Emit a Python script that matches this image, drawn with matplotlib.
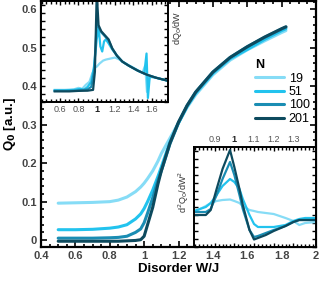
import numpy as np
import matplotlib
matplotlib.use("Agg")
import matplotlib.pyplot as plt
from matplotlib.ticker import MultipleLocator, NullFormatter

plt.rcParams['font.family'] = ['Liberation Sans', 'DejaVu Sans']

# ----------------------------
# DATA
# ----------------------------
sizes = ['19', '51', '100', '201']
colors = ['#86dcf6', '#22c3ee', '#1a8db3', '#0d4a5e']

w_main = [0.5, 0.6, 0.7, 0.8, 0.85, 0.9, 0.95, 0.98, 1.0, 1.02, 1.05, 1.08,
          1.1, 1.15, 1.2, 1.25, 1.3, 1.4, 1.5, 1.6, 1.7, 1.8, 1.825]
q_19 = [0.096, 0.097, 0.098, 0.100, 0.104, 0.112, 0.126, 0.138, 0.148, 0.160,
        0.180, 0.205, 0.225, 0.265, 0.305, 0.345, 0.378, 0.430, 0.468, 0.495,
        0.518, 0.540, 0.545]
q_51 = [0.027, 0.027, 0.028, 0.031, 0.034, 0.040, 0.055, 0.068, 0.082, 0.100,
        0.130, 0.165, 0.190, 0.255, 0.305, 0.348, 0.382, 0.434, 0.472, 0.496,
        0.522, 0.545, 0.550]
q_100 = [0.005, 0.005, 0.005, 0.006, 0.007, 0.010, 0.020, 0.029, 0.045, 0.070,
         0.110, 0.155, 0.180, 0.250, 0.305, 0.350, 0.385, 0.437, 0.475, 0.503,
         0.527, 0.549, 0.554]
q_201 = [-0.003, -0.003, -0.003, -0.003, -0.003, -0.002, -0.001, 0.001, 0.010,
         0.040, 0.085, 0.145, 0.180, 0.252, 0.307, 0.350, 0.385, 0.437, 0.475,
         0.503, 0.528, 0.550, 0.555]

# first derivative inset (box units)
w_d1_19 = [0.54, 0.65, 0.75, 0.8, 0.84, 0.88, 0.92, 0.95, 0.98, 1.0, 1.03,
           1.07, 1.1, 1.15, 1.2, 1.25, 1.3, 1.4, 1.5, 1.53, 1.55, 1.58, 1.65, 1.78]
d1_19 = [0.12, 0.12, 0.125, 0.14, 0.13, 0.17, 0.2, 0.28, 0.34, 0.35, 0.38,
         0.41, 0.42, 0.43, 0.44, 0.42, 0.39, 0.34, 0.29, 0.36, 0.1, 0.26, 0.24, 0.21]
w_d1_51 = [0.54, 0.65, 0.75, 0.82, 0.86, 0.9, 0.94, 0.97, 1.0, 1.02, 1.04,
           1.06, 1.08, 1.1, 1.13, 1.17, 1.22, 1.28, 1.35, 1.45, 1.52, 1.545,
           1.56, 1.58, 1.65, 1.78]
d1_51 = [0.115, 0.115, 0.12, 0.13, 0.12, 0.15, 0.2, 0.35, 0.62, 0.74, 0.55,
         0.5, 0.6, 0.62, 0.58, 0.52, 0.46, 0.40, 0.36, 0.31, 0.28, 0.48, 0.04,
         0.25, 0.24, 0.21]
w_d1_100 = [0.54, 0.7, 0.8, 0.9, 0.94, 0.97, 0.99, 1.0, 1.02, 1.05, 1.1,
            1.13, 1.17, 1.22, 1.28, 1.35, 1.45, 1.55, 1.65, 1.78]
d1_100 = [0.11, 0.11, 0.115, 0.125, 0.15, 0.3, 0.6, 0.8, 0.74, 0.69, 0.64,
          0.61, 0.53, 0.46, 0.40, 0.36, 0.31, 0.27, 0.24, 0.21]
w_d1_201 = [0.54, 0.7, 0.8, 0.9, 0.96, 0.98, 1.0, 1.02, 1.05, 1.1, 1.13,
            1.17, 1.22, 1.28, 1.35, 1.45, 1.55, 1.65, 1.78]
d1_201 = [0.105, 0.105, 0.11, 0.112, 0.12, 0.3, 1.08, 0.76, 0.70, 0.65, 0.62,
          0.53, 0.46, 0.40, 0.36, 0.31, 0.27, 0.24, 0.21]

# second derivative inset (box units)
w_d2 = [0.795, 0.855, 0.88, 0.91, 0.94, 0.978, 1.0, 1.026, 1.043, 1.077,
        1.1, 1.12, 1.16, 1.2, 1.26, 1.3, 1.33, 1.36, 1.415]
d2_19 = [0.35, 0.41, 0.44, 0.46, 0.47, 0.475, 0.46, 0.44, 0.41, 0.37,
         0.36, 0.35, 0.34, 0.33, 0.29, 0.26, 0.22, 0.24, 0.25]
d2_51 = [0.36, 0.40, 0.44, 0.52, 0.61, 0.68, 0.65, 0.58, 0.48, 0.32,
         0.23, 0.20, 0.20, 0.20, 0.22, 0.26, 0.28, 0.29, 0.29]
d2_100 = [0.35, 0.35, 0.38, 0.52, 0.68, 0.85, 0.72, 0.52, 0.38, 0.17,
          0.10, 0.11, 0.14, 0.17, 0.21, 0.25, 0.27, 0.27, 0.27]
d2_201 = [0.32, 0.32, 0.37, 0.58, 0.78, 0.97, 0.80, 0.58, 0.42, 0.17,
          0.075, 0.09, 0.12, 0.16, 0.21, 0.25, 0.27, 0.27, 0.27]

# ----------------------------
# VISUALIZATION
# ----------------------------
fig = plt.figure(figsize=(3.19, 2.81), dpi=100)
W, H = 319, 281


def box(l, t, r, b):
    return [l / W, 1 - b / H, (r - l) / W, (b - t) / H]


ax = fig.add_axes(box(41, 1, 316, 247))
main_series = [q_19, q_51, q_100, q_201]
for s, c, lab in zip(main_series, colors, sizes):
    ax.plot(w_main, s, color=c, lw=2.2, label=lab, solid_capstyle='round')

ax.set_xlim(0.4, 2.0)
ax.set_ylim(-0.018, 0.622)
ax.xaxis.set_major_locator(MultipleLocator(0.2))
ax.xaxis.set_minor_locator(MultipleLocator(0.05))
ax.yaxis.set_major_locator(MultipleLocator(0.1))
ax.yaxis.set_minor_locator(MultipleLocator(0.02))
ax.set_xticks([0.4, 0.6, 0.8, 1.0, 1.2, 1.4, 1.6, 1.8, 2.0])
ax.set_xticklabels(['0.4', '0.6', '0.8', '1', '1.2', '1.4', '1.6', '1.8', '2'])
ax.set_yticks([0, 0.1, 0.2, 0.3, 0.4, 0.5, 0.6])
ax.set_yticklabels(['0', '0.1', '0.2', '0.3', '0.4', '0.5', '0.6'])
ax.tick_params(which='both', direction='in', top=True, right=True,
               width=1.2, labelsize=8, labelcolor='#444444', pad=3)
ax.tick_params(which='major', length=4.5)
ax.tick_params(which='minor', length=2.5)
for lbl in ax.get_xticklabels() + ax.get_yticklabels():
    lbl.set_fontweight('bold')
for sp in ax.spines.values():
    sp.set_linewidth(1.6)

ax.set_xlabel('Disorder W/J', fontsize=9.5, fontweight='bold', labelpad=1)
ax.set_ylabel(r'Q$_\mathbf{0}$ [a.u.]', fontsize=9.5, fontweight='bold', labelpad=2)

leg = ax.legend(loc='upper left', bbox_to_anchor=(250 / W - 41 / W, 0),
                frameon=False, fontsize=9, title='N', handlelength=2.3,
                handletextpad=0.4, labelspacing=0.12, borderaxespad=0)
leg.get_title().set_fontweight('bold')
leg.get_title().set_fontsize(9)
leg._legend_box.align = 'left'
for line in leg.get_lines():
    line.set_linewidth(2.2)
leg.set_bbox_to_anchor((250 / W, 1 - 54 / H), transform=fig.transFigure)

# inset: first derivative
ax1 = fig.add_axes(box(41, 1, 168, 102))
d1_sets = [(w_d1_19, d1_19), (w_d1_51, d1_51), (w_d1_100, d1_100), (w_d1_201, d1_201)]
for (wx, dy), c in zip(d1_sets, colors):
    ax1.plot(wx, dy, color=c, lw=1.6)
ax1.set_xlim(0.39, 1.78)
ax1.set_ylim(0, 1)
ax1.set_xticks([0.6, 0.8, 1.0, 1.2, 1.4, 1.6])
ax1.set_xticklabels(['0.6', '0.8', '1', '1.2', '1.4', '1.6'])
ax1.xaxis.set_minor_locator(MultipleLocator(0.05))
ax1.yaxis.set_major_locator(MultipleLocator(0.08))
ax1.yaxis.set_major_formatter(NullFormatter())

# inset: second derivative
ax2 = fig.add_axes(box(194, 147, 316, 247))
for s, c in zip([d2_19, d2_51, d2_100, d2_201], colors):
    ax2.plot(w_d2, s, color=c, lw=1.6)
ax2.set_xlim(0.795, 1.415)
ax2.set_ylim(0, 1)
ax2.set_xticks([0.9, 1.0, 1.1, 1.2, 1.3])
ax2.set_xticklabels(['0.9', '1', '1.1', '1.2', '1.3'])
ax2.xaxis.set_minor_locator(MultipleLocator(0.02))
ax2.yaxis.set_major_locator(MultipleLocator(0.08))
ax2.yaxis.set_major_formatter(NullFormatter())
ax2.xaxis.tick_top()

for a in (ax1, ax2):
    a.set_facecolor('white')
    a.tick_params(which='both', direction='in', top=True, bottom=True,
                  left=True, right=True, width=1.0, labelsize=6.5,
                  labelcolor='#555555', pad=2)
    a.tick_params(which='major', length=3)
    a.tick_params(which='minor', length=2)
    for sp in a.spines.values():
        sp.set_linewidth(1.4)
    for lbl in a.get_xticklabels():
        if lbl.get_text() == '1':
            lbl.set_fontweight('bold')
            lbl.set_color('#222222')
ax2.tick_params(labeltop=True, labelbottom=False)

fig.text(178 / W, 1 - 28 / H, r'dQ$_0$/dW', rotation=90, fontsize=6.5,
         color='#333333', ha='center', va='center')
fig.text(184 / W, 1 - 192 / H, r'd$^2$Q$_0$/dW$^2$', rotation=90, fontsize=6.5,
         color='#333333', ha='center', va='center')

fig.savefig('out.png', dpi=100)
